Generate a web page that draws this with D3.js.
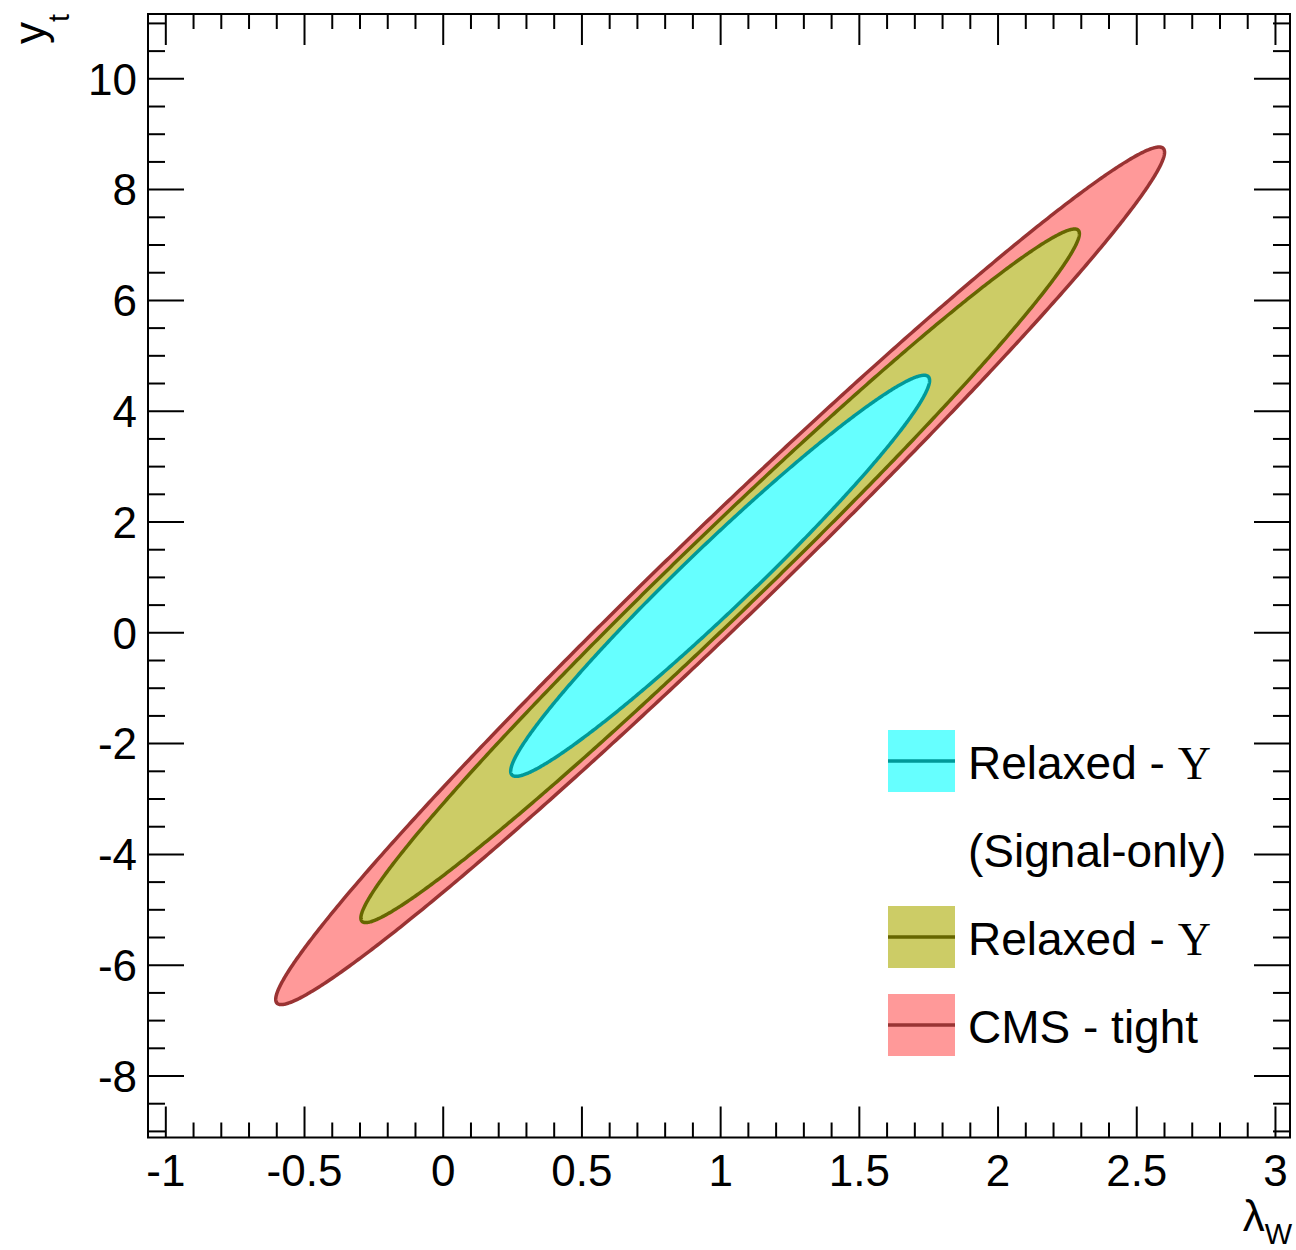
<!DOCTYPE html>
<html>
<head>
<meta charset="utf-8">
<script src="https://cdn.jsdelivr.net/npm/d3@7"></script>
<style>
  html, body { margin: 0; padding: 0; background: #fff; }
  svg { display: block; }
</style>
</head>
<body>
<svg id="chart" width="1296" height="1250"></svg>
<script>
// Likelihood contours in the (lambda_W, y_t) plane, each an ellipse described by
// its centre, half-extent along each axis and the correlation between the two.
const contourNames = ["CMS - tight", "Relaxed - \u03A5", "Relaxed - \u03A5 (Signal-only)"];
const centerX     = [1.0, 1.0, 1.0];
const centerY     = [1.02, 1.02, 1.02];
const halfRangeX  = [1.602, 1.295, 0.755];
const halfRangeY  = [7.74, 6.26, 3.62];
const correlation = [0.9877, 0.9866, 0.974];
const fillColors  = ["#ff9999", "#cccc66", "#66ffff"];
const lineColors  = ["#993333", "#666600", "#009999"];

// Axis ticks
const xTickValues = [-1, -0.5, 0, 0.5, 1, 1.5, 2, 2.5, 3];
const xTickLabels = ["-1", "-0.5", "0", "0.5", "1", "1.5", "2", "2.5", "3"];
const yTickValues = [-8, -6, -4, -2, 0, 2, 4, 6, 8, 10];
const yTickLabels = ["-8", "-6", "-4", "-2", "0", "2", "4", "6", "8", "10"];

// Legend rows, top to bottom (index into the contour arrays; -1 = text-only row)
const legendRows = [
  { idx: 2, text: "Relaxed - ", greek: "\u03A5" },
  { idx: -1, text: "(Signal-only)", greek: "" },
  { idx: 1, text: "Relaxed - ", greek: "\u03A5" },
  { idx: 0, text: "CMS - tight", greek: "" }
];

const svg = d3.select("#chart");
const sans = "'Liberation Sans', Arial, Helvetica, sans-serif";
const serif = "'Liberation Serif', 'Times New Roman', serif";

const frame = { left: 148, right: 1290, top: 14, bottom: 1137.5 };
const x = d3.scaleLinear().domain([-1.0624, 3.0542]).range([frame.left, frame.right]);
const y = d3.scaleLinear().domain([-9.119, 11.161]).range([frame.bottom, frame.top]);

// Contours, largest first so the smaller ones sit on top
const line = d3.line().x(d => x(d[0])).y(d => y(d[1])).curve(d3.curveLinearClosed);
const angles = d3.range(0, 2 * Math.PI, Math.PI / 360);
function ellipsePoints(i) {
  const delta = Math.acos(correlation[i]);
  return angles.map(t => [
    centerX[i] + halfRangeX[i] * Math.cos(t),
    centerY[i] + halfRangeY[i] * Math.cos(t - delta)
  ]);
}
const plot = svg.append("g");
contourNames.forEach((name, i) => {
  plot.append("path")
    .attr("d", line(ellipsePoints(i)))
    .attr("fill", fillColors[i])
    .attr("stroke", lineColors[i])
    .attr("stroke-width", 3.5)
    .attr("stroke-linejoin", "round");
});

// Axes with ticks pointing into the frame on all four sides
const xMinor = d3.range(-1, 3.0001, 0.1).map(v => +v.toFixed(2)).filter(v => !xTickValues.some(m => Math.abs(m - v) < 1e-6));
const yMinor = d3.range(-9, 11.0001, 0.5).filter(v => !yTickValues.includes(v));

function styleAxis(g, withText) {
  g.select(".domain").remove();
  g.selectAll(".tick line").attr("stroke", "#000").attr("stroke-width", 2);
  g.selectAll(".tick text").attr("fill", "#000").style("font-family", sans).style("font-size", "44px");
  if (!withText) g.selectAll(".tick text").remove();
}

svg.append("g").attr("transform", `translate(0,${frame.bottom})`)
  .call(d3.axisBottom(x).tickValues(xTickValues).tickSize(-31).tickPadding(17)
    .tickFormat((d, i) => xTickLabels[i]))
  .call(g => styleAxis(g, true));
svg.append("g").attr("transform", `translate(0,${frame.bottom})`)
  .call(d3.axisBottom(x).tickValues(xMinor).tickSize(-15).tickFormat(""))
  .call(g => styleAxis(g, false));
svg.append("g").attr("transform", `translate(0,${frame.top})`)
  .call(d3.axisTop(x).tickValues(xTickValues).tickSize(-31).tickFormat(""))
  .call(g => styleAxis(g, false));
svg.append("g").attr("transform", `translate(0,${frame.top})`)
  .call(d3.axisTop(x).tickValues(xMinor).tickSize(-15).tickFormat(""))
  .call(g => styleAxis(g, false));

const leftAxis = svg.append("g").attr("transform", `translate(${frame.left},0)`)
  .call(d3.axisLeft(y).tickValues(yTickValues).tickSize(-36).tickPadding(11)
    .tickFormat((d, i) => yTickLabels[i]))
  .call(g => styleAxis(g, true));
leftAxis.selectAll(".tick text").attr("dy", "0.36em");
svg.append("g").attr("transform", `translate(${frame.left},0)`)
  .call(d3.axisLeft(y).tickValues(yMinor).tickSize(-17).tickFormat(""))
  .call(g => styleAxis(g, false));
svg.append("g").attr("transform", `translate(${frame.right},0)`)
  .call(d3.axisRight(y).tickValues(yTickValues).tickSize(-36).tickFormat(""))
  .call(g => styleAxis(g, false));
svg.append("g").attr("transform", `translate(${frame.right},0)`)
  .call(d3.axisRight(y).tickValues(yMinor).tickSize(-17).tickFormat(""))
  .call(g => styleAxis(g, false));

// Frame
svg.append("rect")
  .attr("x", frame.left).attr("y", frame.top)
  .attr("width", frame.right - frame.left).attr("height", frame.bottom - frame.top)
  .attr("fill", "none").attr("stroke", "#000").attr("stroke-width", 2);

// Axis titles
const xTitle = svg.append("text")
  .attr("x", 1292).attr("y", 1231)
  .attr("text-anchor", "end")
  .style("font-family", sans).style("font-size", "44px").attr("fill", "#000");
xTitle.append("tspan").text("\u03BB");
xTitle.append("tspan").attr("dy", 13).style("font-size", "29px").text("W");

const yTitle = svg.append("text")
  .attr("transform", "translate(45,44) rotate(-90)")
  .attr("text-anchor", "start")
  .style("font-family", sans).style("font-size", "44px").attr("fill", "#000");
yTitle.append("tspan").text("y");
yTitle.append("tspan").attr("dy", 24).style("font-size", "29px").text("t");

// Legend
const legend = svg.append("g");
const rowCenters = [761, 849, 937, 1025];
legendRows.forEach((row, r) => {
  const cy = rowCenters[r];
  if (row.idx >= 0) {
    legend.append("rect")
      .attr("x", 888).attr("y", cy - 31).attr("width", 67).attr("height", 62)
      .attr("fill", fillColors[row.idx]);
    legend.append("line")
      .attr("x1", 888).attr("x2", 955).attr("y1", cy).attr("y2", cy)
      .attr("stroke", lineColors[row.idx]).attr("stroke-width", 3.5);
  }
  const t = legend.append("text")
    .attr("x", 968).attr("y", cy + 18)
    .style("font-family", sans).style("font-size", "46px").attr("fill", "#000");
  t.append("tspan").text(row.text);
  if (row.greek) t.append("tspan").style("font-family", serif).style("font-size", "46px").text(row.greek);
});
</script>
</body>
</html>
